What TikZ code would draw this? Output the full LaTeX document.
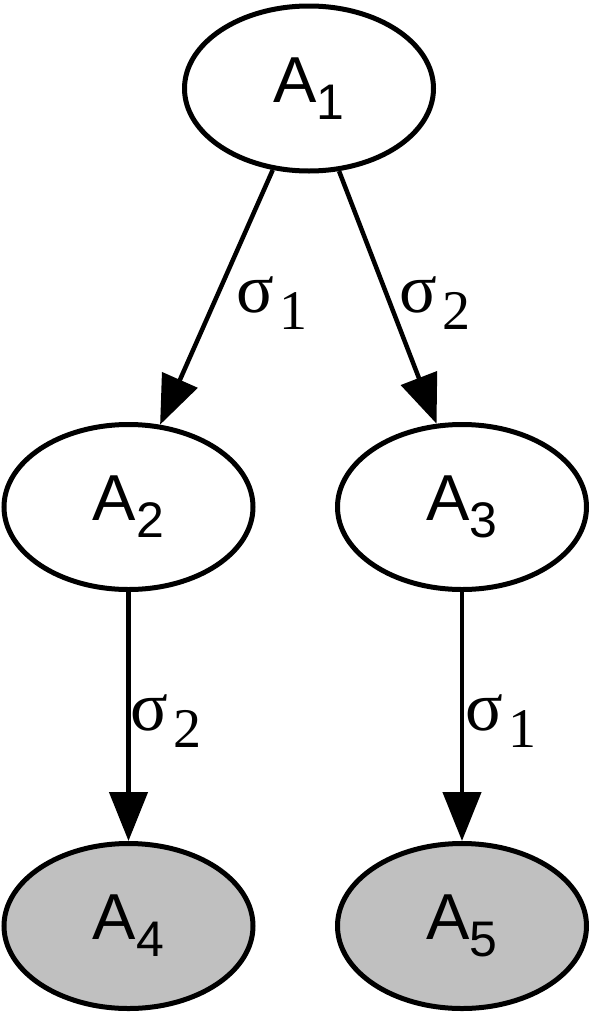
\documentclass[tikz,border=0pt]{standalone}
\usepackage{fontspec}
\setmainfont{Liberation Serif}
\newfontfamily\nodefont{Liberation Sans}
\usetikzlibrary{arrows.meta,shapes.geometric}
\definecolor{nodegray}{RGB}{192,192,192}
\newcommand{\stname}[1]{{\nodefont\fontsize{65}{65}\selectfont A}\raisebox{-17pt}{\nodefont\fontsize{50}{50}\selectfont #1}}
\newcommand{\sglabel}[1]{{\fontsize{70}{70}\selectfont σ}\hspace{6pt}\raisebox{-17pt}{\fontsize{56}{56}\selectfont #1}}
\tikzset{
  state/.style={ellipse, draw=black, line width=5pt, fill=white, inner sep=0pt,
    minimum width=249pt, minimum height=165pt},
  final/.style={state, fill=nodegray},
  arr/.style={line width=4.5pt, -{Triangle[length=49pt,width=38pt]}},
  elabel/.style={anchor=base west, inner sep=0pt, outer sep=0pt}
}
\begin{document}
\begin{tikzpicture}[x=1pt,y=-1pt]
\useasboundingbox (0,0) rectangle (590,1012);
\node[state] (a1) at (309,88.5) {\stname{1}};
\node[state] (a2) at (128.5,507) {\stname{2}};
\node[state] (a3) at (462,507) {\stname{3}};
\node[final] (a4) at (128.5,926) {\stname{4}};
\node[final] (a5) at (462,926) {\stname{5}};
\draw[arr] (a1.246) -- (a2.69.4);
\draw[arr] (a1.290.5) -- (a3.107.8);
\draw[arr] (a2.south) -- (a4.north);
\draw[arr] (a3.south) -- (a5.north);
\node[elabel] (l1) at (236,312) {\sglabel{1}};
\node[elabel] (l2) at (399,312) {\sglabel{2}};
\node[elabel] (l3) at (130,730) {\sglabel{2}};
\node[elabel] (l4) at (465,730) {\sglabel{1}};
\end{tikzpicture}
\end{document}
